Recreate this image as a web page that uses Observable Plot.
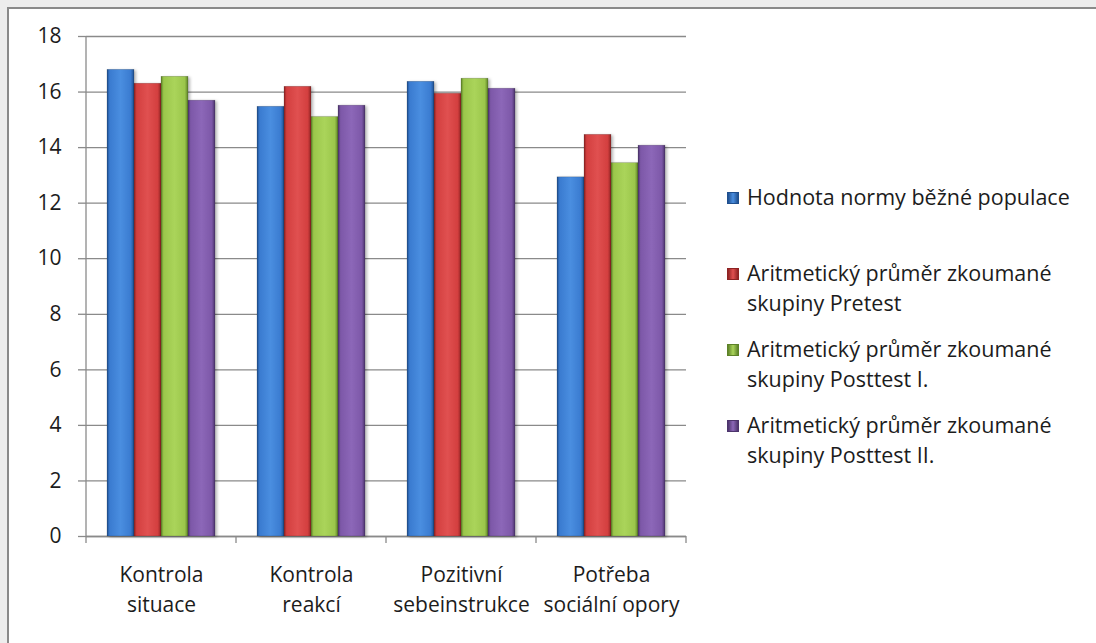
<!DOCTYPE html>
<html>
<head>
<meta charset="utf-8">
<script src="https://cdn.jsdelivr.net/npm/d3@7"></script>
<script src="https://cdn.jsdelivr.net/npm/@observablehq/plot@0.6"></script>
<style>
  html, body { margin: 0; padding: 0; }
  body { width: 1096px; height: 643px; background: #ededed; overflow: hidden; font-family: "Open Sans", sans-serif; }
  #card { position: absolute; left: 7px; top: 7px; right: 0; bottom: 0; background: #fff;
          border-left: 2px solid #8a8a8a; border-top: 2px solid #8a8a8a; }
  #chart { position: absolute; left: 0; top: 0; }
  #legend { position: absolute; left: 727px; top: 0; font-size: 21.5px; line-height: 30px; color: #1c1c1c; }
  .item { position: absolute; left: 0; width: 360px; }
  .sw { position: absolute; left: 0; width: 12px; height: 12px; box-sizing: border-box; }
  .lbl { position: absolute; left: 20px; white-space: nowrap; }
  .bars { filter: drop-shadow(2px 1px 1.5px rgba(0,0,0,0.28)); }
</style>
</head>
<body>
<div id="card"></div>
<div id="chart"></div>
<div id="legend"></div>
<script>
// Coping strategies: norm value vs. group means at three measurement points
const categories = ["Kontrola situace", "Kontrola reakcí", "Pozitivní sebeinstrukce", "Potřeba sociální opory"];
const categoryLines = ["Kontrola\nsituace", "Kontrola\nreakcí", "Pozitivní\nsebeinstrukce", "Potřeba\nsociální opory"];
const series = [
  "Hodnota normy běžné populace",
  "Aritmetický průměr zkoumané skupiny Pretest",
  "Aritmetický průměr zkoumané skupiny Posttest I.",
  "Aritmetický průměr zkoumané skupiny Posttest II."
];
const legendLines = [
  ["Hodnota normy běžné populace"],
  ["Aritmetický průměr zkoumané", "skupiny Pretest"],
  ["Aritmetický průměr zkoumané", "skupiny Posttest I."],
  ["Aritmetický průměr zkoumané", "skupiny Posttest II."]
];
const normValues      = [16.80, 15.47, 16.37, 12.93];
const pretestValues   = [16.30, 16.19, 15.94, 14.46];
const posttest1Values = [16.55, 15.10, 16.48, 13.44];
const posttest2Values = [15.69, 15.51, 16.12, 14.07];
const yTicks = [0, 2, 4, 6, 8, 10, 12, 14, 16, 18];

// base, light centre, dark edge for each series
const palette = [
  {base: "#3a7bd0", light: "#4a8ee0", dark: "#1f4f8e"},
  {base: "#d33f3f", light: "#e05050", dark: "#8e2323"},
  {base: "#9bc64b", light: "#aad45a", dark: "#5d8228"},
  {base: "#7d58a8", light: "#8c67b8", dark: "#4c346c"}
];

const seriesValues = [normValues, pretestValues, posttest1Values, posttest2Values];
const rows = [];
categories.forEach((c, i) => series.forEach((s, j) => rows.push({category: c, series: s, value: seriesValues[j][i]})));

const W = 700, H = 643;
const plot = Plot.plot({
  width: W,
  height: H,
  marginLeft: 86,
  marginRight: 14,
  marginTop: 36,
  marginBottom: H - 536,
  style: {fontFamily: "'Open Sans', sans-serif", fontSize: "21px", color: "#1c1c1c", background: "transparent"},
  fx: {domain: categories, padding: 0, label: null},
  x: {domain: series, paddingInner: 0, paddingOuter: 0.71, axis: null},
  y: {domain: [0, 18], label: null},
  color: {domain: series, range: series.map((_, j) => `url(#bar${j})`)},
  marks: [
    Plot.gridY(yTicks, {stroke: "#8a8a8a", strokeOpacity: 1, strokeWidth: 1.3}),
    Plot.ruleY([0], {stroke: "#8a8a8a", strokeWidth: 1.3}),
    Plot.barY(rows, {fx: "category", x: "series", y: "value", fill: "series", inset: 0,
                     stroke: "rgba(0,0,0,0.25)", strokeWidth: 0.6, className: "bars"}),
    Plot.axisY(yTicks, {anchor: "left", tickSize: 8, tickPadding: 17, stroke: "#8a8a8a", strokeWidth: 1.3,
                        fill: "#1c1c1c", fontSize: 21, label: null}),
    Plot.axisFx({anchor: "bottom", tickSize: 0, tickPadding: 24, fontSize: 21, lineHeight: 1.43, label: null,
                 fill: "#1c1c1c", tickFormat: (d) => categoryLines[categories.indexOf(d)]})
  ]
});
document.getElementById("chart").appendChild(plot);

// gradient definitions for the bevelled bars
const svg = d3.select(plot.tagName === "svg" ? plot : plot.querySelector("svg"));
const defs = svg.insert("defs", ":first-child");
palette.forEach((p, j) => {
  const g = defs.append("linearGradient").attr("id", `bar${j}`).attr("x1", 0).attr("x2", 1).attr("y1", 0).attr("y2", 0);
  [[0, p.dark], [0.1, p.base], [0.5, p.light], [0.88, p.base], [1, p.dark]].forEach(([o, c]) =>
    g.append("stop").attr("offset", o).attr("stop-color", c));
});

// y axis line and category boundary ticks from the facet scale
const fx = plot.scale("fx"), y = plot.scale("y");
const left = fx.apply(categories[0]);
const edges = categories.map(c => fx.apply(c)).concat([fx.apply(categories[categories.length - 1]) + fx.bandwidth]);
const deco = svg.append("g").attr("stroke", "#8a8a8a").attr("stroke-width", 1.3);
deco.append("line").attr("x1", left).attr("x2", left).attr("y1", y.apply(18)).attr("y2", y.apply(0));
edges.forEach(x => deco.append("line").attr("x1", x).attr("x2", x).attr("y1", y.apply(0)).attr("y2", y.apply(0) + 7));

// legend
const legend = d3.select("#legend");
series.forEach((s, j) => {
  const top = 182 + 76 * j;
  const item = legend.append("div").attr("class", "item").style("top", top + "px");
  item.append("div").attr("class", "sw")
    .style("top", "10px")
    .style("background", `linear-gradient(to right, ${palette[j].dark}, ${palette[j].light} 50%, ${palette[j].dark})`)
    .style("border", `1px solid ${palette[j].dark}`);
  item.append("div").attr("class", "lbl").html(legendLines[j].join("<br>"));
});
</script>
</body>
</html>
